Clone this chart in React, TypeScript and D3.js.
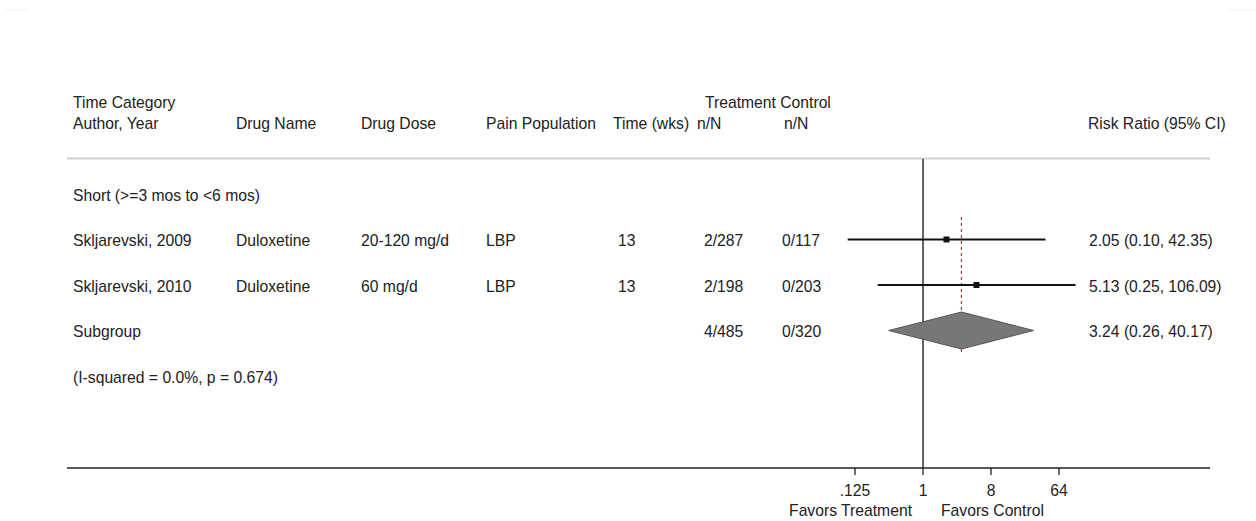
import React from "react";
import * as d3 from "d3";

const headerTop = ["Time Category", "", "", "", "", "Treatment Control", ""];
const headerBottom = ["Author, Year", "Drug Name", "Drug Dose", "Pain Population", "Time (wks)", "n/N", "n/N"];
const groupLabel = "Short (>=3 mos to <6 mos)";
const authors = ["Skljarevski, 2009", "Skljarevski, 2010"];
const drugNames = ["Duloxetine", "Duloxetine"];
const drugDoses = ["20-120 mg/d", "60 mg/d"];
const painPops = ["LBP", "LBP"];
const timeWks = ["13", "13"];
const treatNN = ["2/287", "2/198"];
const controlNN = ["0/117", "0/203"];
const rr = [2.05, 5.13];
const rrLow = [0.1, 0.25];
const rrHigh = [42.35, 106.09];
const rrText = ["2.05 (0.10, 42.35)", "5.13 (0.25, 106.09)"];
const subgroupLabel = "Subgroup";
const subgroupTreat = "4/485";
const subgroupControl = "0/320";
const subgroupRR = 3.24;
const subgroupDiamondLow = 0.35;
const subgroupDiamondHigh = 29.4;
const subgroupText = "3.24 (0.26, 40.17)";
const heterogeneity = "(I-squared = 0.0%, p = 0.674)";
const axisTicks = [0.125, 1, 8, 64];
const axisTickLabels = [".125", "1", "8", "64"];
const favorsLeft = "Favors Treatment";
const favorsRight = "Favors Control";
const riskHeader = "Risk Ratio (95% CI)";

const W = 1256;
const H = 521;
const font = "Liberation Sans, Arial, sans-serif";
const fs = 15.7;

export default function App() {
  const x = d3.scaleLog().base(2).domain([0.125, 64]).range([855, 1059]);
  const headX = [73, 236, 361, 486, 613, 697, 784];
  const dataX = [73, 236, 361, 486, 618, 704, 782];
  const rowY = d3.scaleLinear().domain([0, 4]).range([195, 377]);
  const axisY = 468;

  const textProps = { fontFamily: font, fontSize: fs, fill: "#222", dominantBaseline: "central" as const };
  const sq = 6;
  const studyRows = [1, 2];
  const diamondY = rowY(3) - 1;

  return (
    <div style={{ position: "absolute", left: 0, top: 0 }}>
      <svg width={W} height={H} style={{ display: "block", background: "#fff" }}>
        <path d="M5,10 H28 M1228,10 H1256" stroke="#eef2f2" strokeWidth={1} fill="none" />

        {headerTop.map((t, i) => t ? <text key={"ht" + i} x={i === 5 ? 705 : headX[i]} y={102} {...textProps}>{t}</text> : null)}
        {headerBottom.map((t, i) => <text key={"hb" + i} x={headX[i]} y={123} {...textProps}>{t}</text>)}
        <text x={1088} y={123} {...textProps}>{riskHeader}</text>

        <line x1={67} x2={1210} y1={158.5} y2={158.5} stroke="#cfcfcf" strokeWidth={2} />

        <line x1={x(1)} x2={x(1)} y1={159} y2={axisY} stroke="#111" strokeWidth={1.3} />

        <line x1={x(subgroupRR)} x2={x(subgroupRR)} y1={217} y2={355} stroke="#9b3a3a" strokeWidth={1.2} strokeDasharray="3,3" />

        <text x={dataX[0]} y={rowY(0)} {...textProps}>{groupLabel}</text>

        {studyRows.map((r, i) => (
          <g key={"s" + i}>
            <text x={dataX[0]} y={rowY(r)} {...textProps}>{authors[i]}</text>
            <text x={dataX[1]} y={rowY(r)} {...textProps}>{drugNames[i]}</text>
            <text x={dataX[2]} y={rowY(r)} {...textProps}>{drugDoses[i]}</text>
            <text x={dataX[3]} y={rowY(r)} {...textProps}>{painPops[i]}</text>
            <text x={dataX[4]} y={rowY(r)} {...textProps}>{timeWks[i]}</text>
            <text x={dataX[5]} y={rowY(r)} {...textProps}>{treatNN[i]}</text>
            <text x={dataX[6]} y={rowY(r)} {...textProps}>{controlNN[i]}</text>
            <line x1={x(rrLow[i])} x2={x(rrHigh[i])} y1={rowY(r) - 1} y2={rowY(r) - 1} stroke="#111" strokeWidth={2} />
            <rect x={x(rr[i]) - sq / 2} y={rowY(r) - 1 - sq / 2} width={sq} height={sq} fill="#111" />
            <text x={1089} y={rowY(r)} {...textProps}>{rrText[i]}</text>
          </g>
        ))}

        <text x={dataX[0]} y={rowY(3)} {...textProps}>{subgroupLabel}</text>
        <text x={dataX[5]} y={rowY(3)} {...textProps}>{subgroupTreat}</text>
        <text x={dataX[6]} y={rowY(3)} {...textProps}>{subgroupControl}</text>
        <path
          d={`M${x(subgroupDiamondLow)},${diamondY} L${x(subgroupRR)},${diamondY - 18.5} L${x(subgroupDiamondHigh)},${diamondY} L${x(subgroupRR)},${diamondY + 18.5} Z`}
          fill="#777"
          stroke="#555"
          strokeWidth={1}
        />
        <text x={1089} y={rowY(3)} {...textProps}>{subgroupText}</text>

        <text x={dataX[0]} y={rowY(4)} {...textProps}>{heterogeneity}</text>

        <line x1={67} x2={1210} y1={axisY} y2={axisY} stroke="#222" strokeWidth={1.5} />
        {axisTicks.map((t, i) => (
          <g key={"t" + i}>
            <line x1={x(t)} x2={x(t)} y1={axisY} y2={axisY + 7} stroke="#222" strokeWidth={1.3} />
            <text x={x(t)} y={490} textAnchor="middle" {...textProps}>{axisTickLabels[i]}</text>
          </g>
        ))}
        <text x={912} y={510} textAnchor="end" {...textProps}>{favorsLeft}</text>
        <text x={941} y={510} {...textProps}>{favorsRight}</text>
      </svg>
    </div>
  );
}
